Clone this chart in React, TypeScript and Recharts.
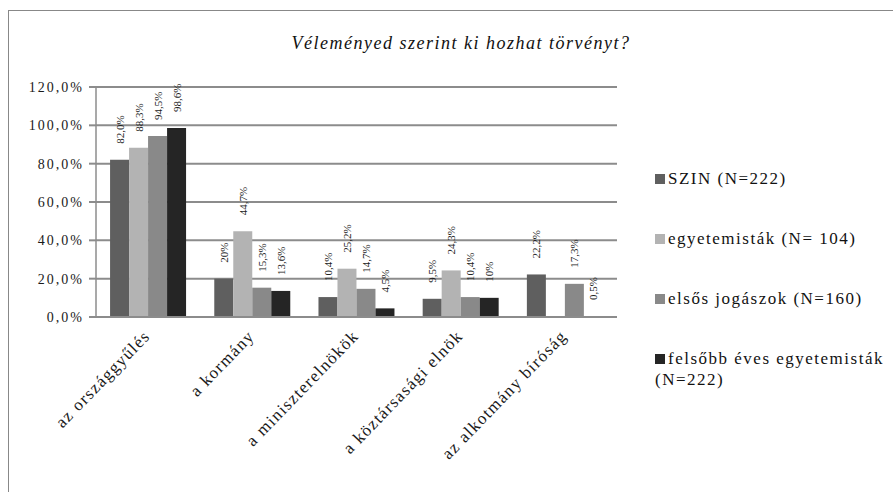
import { BarChart, Bar, XAxis, YAxis, CartesianGrid, Legend, LabelList } from 'recharts';

const categories = ['az országgyűlés', 'a kormány', 'a miniszterelnökök', 'a köztársasági elnök', 'az alkotmány bíróság'];

const szin = [82.0, 20, 10.4, 9.5, 22.2];
const egyetemistak = [88.3, 44.7, 25.2, 24.3, null];
const elsos = [94.5, 15.3, 14.7, 10.4, 17.3];
const felsobb = [98.6, 13.6, 4.5, 10, 0.5];

const szinLabels = ['82,0%', '20%', '10,4%', '9,5%', '22,2%'];
const egyetemistakLabels = ['88,3%', '44,7%', '25,2%', '24,3%', ''];
const elsosLabels = ['94,5%', '15,3%', '14,7%', '10,4%', '17,3%'];
const felsobbLabels = ['98,6%', '13,6%', '4,5%', '10%', '0,5%'];

const yTicks = [0, 20, 40, 60, 80, 100, 120];

const series = [
  { key: 'szin', name: 'SZIN (N=222)', color: '#5f5f5f', labels: szinLabels },
  { key: 'egyetemistak', name: 'egyetemisták (N= 104)', color: '#b3b3b3', labels: egyetemistakLabels },
  { key: 'elsos', name: 'elsős jogászok (N=160)', color: '#898989', labels: elsosLabels },
  { key: 'felsobb', name: 'felsőbb éves egyetemisták (N=222)', color: '#252525', labels: felsobbLabels },
];

const chartData = categories.map((c, i) => ({
  category: c,
  szin: szin[i],
  egyetemistak: egyetemistak[i],
  elsos: elsos[i],
  felsobb: felsobb[i],
}));

const FONT = "'Times New Roman', 'Liberation Serif', Tinos, 'DejaVu Serif', serif";
const GRID = '#8c8c8c';

const XTick = ({ x, y, payload }: any) => (
  <g transform={`translate(${x + 3},${y + 20})`}>
    <text
      textAnchor="end"
      transform="rotate(-46)"
      style={{ fontFamily: FONT }}
      fontSize={17}
      letterSpacing={1.3}
      fill="#1a1a1a"
    >
      {payload.value}
    </text>
  </g>
);

const barLabel = (labels: string[]) => (props: any) => {
  const { x, y, width, index, value } = props;
  if (value == null || !labels[index]) return null;
  const cx = x + width / 2;
  const ty = y - 16;
  return (
    <text
      x={cx}
      y={ty}
      transform={`rotate(-90, ${cx}, ${ty})`}
      textAnchor="start"
      dominantBaseline="central"
      style={{ fontFamily: FONT }}
      fontSize={11}
      fill="#222"
    >
      {labels[index]}
    </text>
  );
};

const LegendBox = () => (
  <div style={{ fontFamily: FONT, fontSize: 17, letterSpacing: 1.5, lineHeight: '21px', color: '#111' }}>
    {series.map((s) => (
      <div key={s.key} style={{ marginBottom: 39 }}>
        <span
          style={{
            display: 'inline-block',
            width: 10,
            height: 10,
            background: s.color,
            marginRight: 3,
            verticalAlign: 'baseline',
          }}
        />
        {s.name}
      </div>
    ))}
  </div>
);

export default function App() {
  return (
    <div style={{ position: 'absolute', left: 0, top: 0, width: 893, height: 492, overflow: 'hidden', background: '#fff' }}>
      <div
        style={{
          position: 'absolute',
          left: 8,
          top: 10,
          width: 893,
          height: 492,
          borderTop: '1px solid #888',
          borderLeft: '1px solid #888',
        }}
      />
      <div
        style={{
          position: 'absolute',
          left: 0,
          width: 922,
          top: 33,
          textAlign: 'center',
          fontFamily: FONT,
          fontStyle: 'italic',
          fontSize: 18,
          letterSpacing: 1.5,
          color: '#111',
        }}
      >
        Véleményed szerint  ki hozhat törvényt?
      </div>
      <div style={{ position: 'absolute', left: 0, top: 0 }}>
        <BarChart
          width={893}
          height={492}
          data={chartData}
          margin={{ top: 87, right: 276, bottom: 0, left: 0 }}
          barCategoryGap="13.5%"
          barGap={0}
        >
          <CartesianGrid vertical={false} stroke={GRID} strokeWidth={2} />
          <XAxis
            dataKey="category"
            height={175}
            interval={0}
            tick={<XTick />}
            tickLine={false}
            tickSize={0}
            tickMargin={0}
            axisLine={{ stroke: GRID, strokeWidth: 2 }}
          />
          <YAxis
            width={96}
            domain={[0, 120]}
            ticks={yTicks}
            interval={0}
            tickFormatter={(v: number) => v.toFixed(1).replace('.', ',') + '%'}
            tick={{ style: { fontFamily: FONT }, fontSize: 14, letterSpacing: 2, fill: '#1a1a1a' }}
            tickSize={7}
            tickMargin={5}
            tickLine={{ stroke: GRID, strokeWidth: 2 }}
            axisLine={{ stroke: GRID, strokeWidth: 1.5 }}
          />
          <Legend
            layout="vertical"
            align="center"
            verticalAlign="middle"
            wrapperStyle={{ left: 655, top: 168, width: 240 }}
            content={() => <LegendBox />}
          />
          {series.map((s) => (
            <Bar key={s.key} dataKey={s.key} name={s.name} fill={s.color} isAnimationActive={false}>
              <LabelList dataKey={s.key} content={barLabel(s.labels)} />
            </Bar>
          ))}
        </BarChart>
      </div>
    </div>
  );
}
